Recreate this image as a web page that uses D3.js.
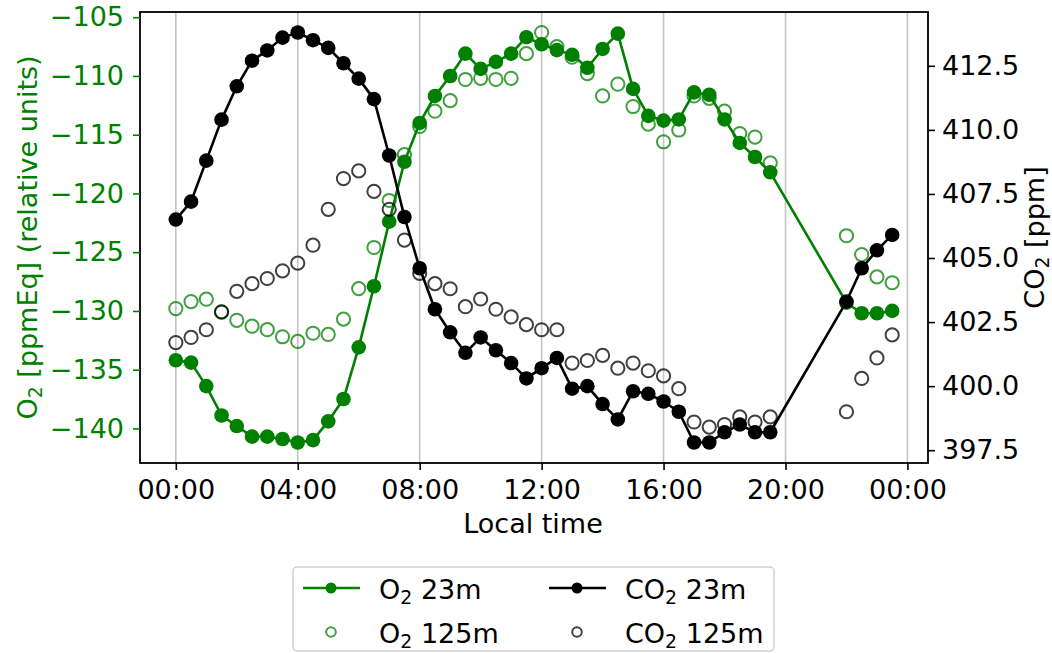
<!DOCTYPE html>
<html>
<meta charset="utf-8">
<title>O2 and CO2 diurnal cycle</title>
<head>
  <script src="https://cdnjs.cloudflare.com/ajax/libs/d3/7.8.5/d3.min.js"></script>
  <style>
    body { margin: 0; background: #fff; }
    text { font-family: "DejaVu Sans", sans-serif; }
  </style>
</head>
<body>
<script>
  // local time in hours (no data between 20:00 and 22:00)
  var hours = [0, 0.5, 1, 1.5, 2, 2.5, 3, 3.5, 4, 4.5,
    5, 5.5, 6, 6.5, 7, 7.5, 8, 8.5, 9, 9.5,
    10, 10.5, 11, 11.5, 12, 12.5, 13, 13.5, 14, 14.5,
    15, 15.5, 16, 16.5, 17, 17.5, 18, 18.5, 19, 19.5,
    22, 22.5, 23, 23.5];

  var o2_23m = [-134.2, -134.4, -136.4, -138.9, -139.8, -140.7, -140.7, -140.9, -141.2, -141.0,
    -139.4, -137.5, -133.1, -127.9, -122.4, -117.3, -114.0, -111.7, -110.0, -108.1,
    -109.4, -108.8, -108.1, -106.7, -107.3, -107.8, -108.2, -109.3, -107.7, -106.4,
    -111.1, -113.4, -113.8, -113.7, -111.4, -111.6, -113.7, -115.7, -116.9, -118.2,
    -129.3, -130.2, -130.2, -130.0];

  var o2_125m = [-129.8, -129.2, -129.0, -130.1, -130.8, -131.3, -131.6, -132.2, -132.6, -131.9,
    -132.0, -130.7, -128.1, -124.6, -120.6, -116.7, -114.3, -113.0, -112.1, -110.3,
    -110.2, -110.3, -110.2, -108.1, -106.3, -107.5, -108.4, -109.8, -111.7, -110.7,
    -112.6, -114.1, -115.6, -114.6, -111.7, -111.9, -113.0, -114.9, -115.2, -117.4,
    -123.6, -125.2, -127.1, -127.6];

  var co2_23m = [406.5, 407.2, 408.8, 410.4, 411.7, 412.7, 413.1, 413.6, 413.8, 413.5,
    413.2, 412.6, 412.0, 411.2, 409.0, 406.6, 404.6, 403.0, 402.1, 401.3,
    401.9, 401.4, 400.9, 400.3, 400.7, 401.1, 399.9, 400.0, 399.3, 398.7,
    399.8, 399.7, 399.4, 399.0, 397.8, 397.8, 398.2, 398.5, 398.2, 398.2,
    403.3, 404.6, 405.3, 405.9];

  var co2_125m = [401.7, 401.9, 402.2, 402.9, 403.7, 404.0, 404.2, 404.5, 404.8, 405.5,
    406.9, 408.1, 408.4, 407.6, 406.9, 405.7, 404.4, 404.0, 403.8, 403.1,
    403.4, 403.0, 402.7, 402.4, 402.2, 402.2, 400.9, 401.0, 401.2, 400.7,
    400.9, 400.6, 400.4, 399.9, 398.6, 398.4, 398.5, 398.8, 398.6, 398.8,
    399.0, 400.3, 401.1, 402.0];

  var timeTicks = [0, 4, 8, 12, 16, 20, 24];
  var timeLabels = ["00:00", "04:00", "08:00", "12:00", "16:00", "20:00", "00:00"];
  var o2Ticks = [-140, -135, -130, -125, -120, -115, -110, -105];
  var co2Ticks = [397.5, 400.0, 402.5, 405.0, 407.5, 410.0, 412.5];

  var GREEN = "#008000";
  var FS = "27px";
  var W = 1052, H = 653;
  var plotL = 140, plotR = 928, plotT = 12, plotB = 463;

  // matplotlib-like 5% margins
  function padded(vals) {
    var e = d3.extent(vals), m = (e[1] - e[0]) * 0.05;
    return [e[0] - m, e[1] + m];
  }

  var x = d3.scaleLinear().domain(padded(hours)).range([plotL, plotR]);
  var yO2 = d3.scaleLinear().domain(padded(o2_23m.concat(o2_125m))).range([plotB, plotT]);
  var yCO2 = d3.scaleLinear().domain(padded(co2_23m.concat(co2_125m))).range([plotB, plotT]);

  var svg = d3.select("body").append("svg")
      .attr("width", W)
      .attr("height", H);

  // vertical grid
  svg.append("g").selectAll("line")
      .data(timeTicks)
      .enter().append("line")
      .attr("x1", function(d) { return x(d); })
      .attr("x2", function(d) { return x(d); })
      .attr("y1", plotT).attr("y2", plotB)
      .style("stroke", "#c4c4c4")
      .style("stroke-width", 1.6);

  function pts(ys) {
    return hours.map(function(h, i) { return [h, ys[i]]; });
  }

  // gap between 20:00 and 22:00 is bridged by a straight segment
  function drawLine(data, yScale, color) {
    svg.append("path")
        .datum(data)
        .attr("d", d3.line().x(function(d) { return x(d[0]); }).y(function(d) { return yScale(d[1]); }))
        .style("fill", "none")
        .style("stroke", color)
        .style("stroke-width", 2.6)
        .style("stroke-linejoin", "round");
    svg.append("g").selectAll("circle")
        .data(data)
        .enter().append("circle")
        .attr("cx", function(d) { return x(d[0]); })
        .attr("cy", function(d) { return yScale(d[1]); })
        .attr("r", 7.3)
        .style("fill", color);
  }

  function drawOpen(data, yScale, color) {
    svg.append("g").selectAll("circle")
        .data(data)
        .enter().append("circle")
        .attr("cx", function(d) { return x(d[0]); })
        .attr("cy", function(d) { return yScale(d[1]); })
        .attr("r", 6.6)
        .style("fill", "none")
        .style("stroke", color)
        .style("stroke-width", 2);
  }

  drawLine(pts(o2_23m), yO2, GREEN);
  drawOpen(pts(o2_125m), yO2, "rgba(0,128,0,0.75)");
  drawLine(pts(co2_23m), yCO2, "#000");
  drawOpen(pts(co2_125m), yCO2, "rgba(0,0,0,0.75)");

  // frame
  svg.append("rect")
      .attr("x", plotL).attr("y", plotT)
      .attr("width", plotR - plotL).attr("height", plotB - plotT)
      .style("fill", "none")
      .style("stroke", "#000")
      .style("stroke-width", 1.8);

  // axes
  var xAxis = d3.axisBottom(x)
      .tickValues(timeTicks)
      .tickFormat(function(d, i) { return timeLabels[i]; })
      .tickSize(7).tickPadding(10);
  var gx = svg.append("g").attr("transform", "translate(0," + plotB + ")").call(xAxis);

  var gl = svg.append("g").attr("transform", "translate(" + plotL + ",0)")
      .call(d3.axisLeft(yO2).tickValues(o2Ticks).tickFormat(d3.format("d")).tickSize(7).tickPadding(9));

  var gr = svg.append("g").attr("transform", "translate(" + plotR + ",0)")
      .call(d3.axisRight(yCO2).tickValues(co2Ticks).tickFormat(d3.format(".1f")).tickSize(7).tickPadding(7));

  [gx, gl, gr].forEach(function(g) {
    g.select(".domain").remove();
    g.selectAll("text").style("font-size", FS).style("font-family", "DejaVu Sans");
    g.selectAll("line").style("stroke-width", 1.6);
  });
  gl.selectAll("text").style("fill", GREEN);
  gl.selectAll("line").style("stroke", GREEN);

  // axis labels
  svg.append("text")
      .attr("x", (plotL + plotR) / 2 - 1).attr("y", 533)
      .attr("text-anchor", "middle")
      .style("font-size", FS)
      .text("Local time");

  function subLabel(sel, pre, post) {
    sel.append("tspan").text(pre);
    sel.append("tspan").text("2").style("font-size", "70%").attr("dy", 5);
    sel.append("tspan").text(post).attr("dy", -5);
  }

  var ylab = svg.append("text")
      .attr("transform", "translate(37," + (plotT + plotB) / 2 + ") rotate(-90)")
      .attr("text-anchor", "middle")
      .style("font-size", FS)
      .style("fill", GREEN);
  subLabel(ylab, "O", " [ppmEq] (relative units)");

  var y2lab = svg.append("text")
      .attr("transform", "translate(1044," + (plotT + plotB) / 2 + ") rotate(-90)")
      .attr("text-anchor", "middle")
      .style("font-size", FS);
  subLabel(y2lab, "CO", " [ppm]");

  // legend
  var lg = svg.append("g");
  lg.append("rect")
      .attr("x", 293).attr("y", 567)
      .attr("width", 481).attr("height", 84)
      .attr("rx", 4)
      .style("fill", "#fff")
      .style("stroke", "#d0d0d0")
      .style("stroke-width", 1.5);

  var items = [
    {col: 0, row: 0, color: GREEN, filled: true, pre: "O", post: " 23m"},
    {col: 1, row: 0, color: "#000", filled: true, pre: "CO", post: " 23m"},
    {col: 0, row: 1, color: "rgba(0,128,0,0.75)", filled: false, pre: "O", post: " 125m"},
    {col: 1, row: 1, color: "rgba(0,0,0,0.75)", filled: false, pre: "CO", post: " 125m"}
  ];
  items.forEach(function(it) {
    var x0 = 303 + it.col * 246, yy = 588 + it.row * 44;
    if (it.filled) {
      lg.append("line")
          .attr("x1", x0).attr("x2", x0 + 57)
          .attr("y1", yy).attr("y2", yy)
          .style("stroke", it.color).style("stroke-width", 2.6);
      lg.append("circle").attr("cx", x0 + 28).attr("cy", yy).attr("r", 5.5).style("fill", it.color);
    } else {
      lg.append("circle").attr("cx", x0 + 28).attr("cy", yy).attr("r", 4.8)
          .style("fill", "none").style("stroke", it.color).style("stroke-width", 2);
    }
    var t = lg.append("text")
        .attr("x", x0 + 76).attr("y", yy + 11)
        .style("font-size", FS);
    subLabel(t, it.pre, it.post);
  });
</script>
</body>
</html>
